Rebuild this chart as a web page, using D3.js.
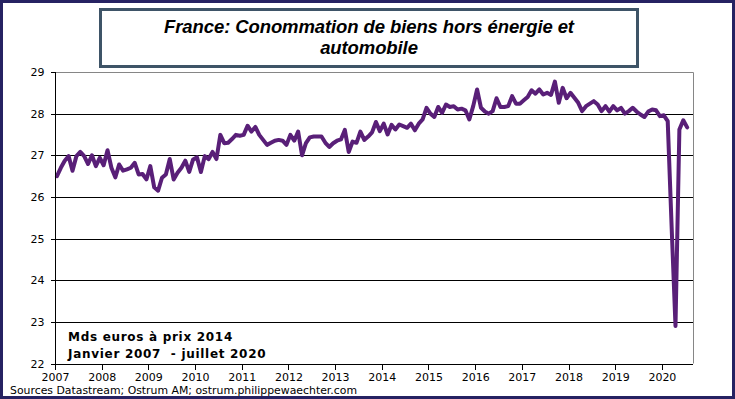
<!DOCTYPE html>
<html>
<head>
<meta charset="utf-8">
<script src="https://cdn.jsdelivr.net/npm/d3@7"></script>
<style>
  html, body { margin: 0; padding: 0; background: #fff; }
  svg { display: block; }
  .axis path, .axis line { stroke: #000; shape-rendering: crispEdges; }
  .axis text { font-family: "DejaVu Sans", Verdana, sans-serif; font-size: 11px; fill: #000; }
</style>
</head>
<body>
<svg id="chart" width="735" height="399"></svg>
<script>
// monthly series, Jan 2007 .. Jul 2020 (Mds euros, prix 2014)
var startYear = 2007;
var yearLabels = ["2007", "2008", "2009", "2010", "2011", "2012", "2013",
                  "2014", "2015", "2016", "2017", "2018", "2019", "2020"];
var yTicks = [22, 23, 24, 25, 26, 27, 28, 29];
var values = [
  26.50, 26.70, 26.87, 26.98, 26.63, 26.98, 27.08, 26.98, 26.79, 27.00, 26.74, 26.94, // 2007
  26.76, 27.12, 26.70, 26.47, 26.78, 26.63, 26.66, 26.70, 26.82, 26.54, 26.55, 26.42, // 2008
  26.74, 26.23, 26.15, 26.46, 26.54, 26.91, 26.42, 26.58, 26.70, 26.87, 26.60, 26.90, // 2009
  26.95, 26.60, 26.98, 26.91, 27.08, 26.91, 27.49, 27.29, 27.30, 27.39, 27.49, 27.47, // 2010
  27.49, 27.71, 27.57, 27.68, 27.49, 27.37, 27.25, 27.30, 27.35, 27.37, 27.35, 27.25, // 2011
  27.49, 27.35, 27.57, 27.00, 27.29, 27.43, 27.45, 27.45, 27.45, 27.30, 27.20, 27.29, // 2012
  27.35, 27.38, 27.61, 27.08, 27.33, 27.30, 27.57, 27.37, 27.45, 27.55, 27.80, 27.58, // 2013
  27.76, 27.50, 27.73, 27.62, 27.74, 27.70, 27.66, 27.76, 27.60, 27.76, 27.86, 28.14, // 2014
  28.00, 27.92, 28.16, 28.02, 28.22, 28.16, 28.18, 28.10, 28.12, 28.08, 27.86, 28.18, // 2015
  28.58, 28.14, 28.05, 28.00, 28.06, 28.37, 28.16, 28.16, 28.18, 28.42, 28.24, 28.24, // 2016
  28.32, 28.40, 28.56, 28.48, 28.58, 28.46, 28.50, 28.45, 28.77, 28.26, 28.62, 28.37, // 2017
  28.50, 28.38, 28.26, 28.06, 28.18, 28.24, 28.30, 28.22, 28.06, 28.18, 28.05, 28.18, // 2018
  28.08, 28.14, 28.00, 28.06, 28.14, 28.05, 27.98, 27.92, 28.05, 28.10, 28.08, 27.94, // 2019
  27.96, 27.82, 25.30, 22.90, 27.62, 27.84, 27.67                                      // 2020
];
var noteLines = ["Mds euros à prix 2014", "Janvier 2007  - juillet 2020"];
var titleLines = ["France: Conommation de biens hors énergie et", "automobile"];
var sourceText = "Sources Datastream; Ostrum AM; ostrum.philippewaechter.com";

var svg = d3.select("#chart");
var W = +svg.attr("width"), H = +svg.attr("height");

// outer frame
svg.append("rect")
  .attr("x", 1.5).attr("y", 1.5)
  .attr("width", W - 3).attr("height", H - 3)
  .attr("fill", "#fff")
  .attr("stroke", "#262262")
  .attr("stroke-width", 3);

var plot = {left: 55, right: 693, top: 72, bottom: 363.5};

// category axis: 164 month slots, points sit mid-slot
var x = d3.scaleLinear().domain([0, 164]).range([plot.left, plot.right]);
var y = d3.scaleLinear().domain([22, 29]).range([plot.bottom, plot.top]);

var g = svg.append("g");

// gridlines
g.selectAll(".grid")
  .data(yTicks.filter(function(d) { return d > 22 && d < 29; }))
  .enter().append("line")
    .attr("class", "grid")
    .attr("x1", plot.left).attr("x2", plot.right)
    .attr("y1", function(d) { return Math.round(y(d)) + 0.5; })
    .attr("y2", function(d) { return Math.round(y(d)) + 0.5; })
    .attr("stroke", "#000")
    .attr("stroke-width", 1);

// plot area border (top and right in grey)
g.append("path")
  .attr("d", "M" + plot.left + "," + (Math.round(y(29)) + 0.5) +
             "H" + (plot.right + 0.5) + "V" + plot.bottom)
  .attr("fill", "none")
  .attr("stroke", "#868686")
  .attr("stroke-width", 1);

// series
var line = d3.line()
  .x(function(d, i) { return x(i + 0.5); })
  .y(function(d) { return y(d); });

g.append("path")
  .datum(values)
  .attr("d", line)
  .attr("fill", "none")
  .attr("stroke", "#591F78")
  .attr("stroke-width", 4)
  .attr("stroke-linejoin", "round")
  .attr("stroke-linecap", "round");

// axes
var yAxis = d3.axisLeft(y).tickValues(yTicks).tickSize(5).tickPadding(6).tickFormat(d3.format("d"));
svg.append("g")
  .attr("class", "axis")
  .attr("transform", "translate(" + (plot.left + 0.5) + ",0)")
  .call(yAxis)
  .call(function(s) { s.select(".domain").attr("d", "M0," + y(29) + "V" + y(22)); });

var xAxis = d3.axisBottom(x)
  .tickValues(yearLabels.map(function(d, i) { return i * 12; }))
  .tickSize(5).tickPadding(4)
  .tickFormat(function(d) { return yearLabels[d / 12]; });
svg.append("g")
  .attr("class", "axis")
  .attr("transform", "translate(0," + (Math.round(plot.bottom) + 0.5) + ")")
  .call(xAxis)
  .call(function(s) { s.select(".domain").attr("d", "M" + plot.left + ",0H" + plot.right); });

// note inside plot
svg.selectAll(".note")
  .data(noteLines)
  .enter().append("text")
    .attr("class", "note")
    .attr("x", 68)
    .attr("y", function(d, i) { return 341 + i * 17; })
    .attr("font-family", "'DejaVu Sans', Verdana, sans-serif")
    .attr("font-weight", "bold")
    .attr("font-size", 12)
    .attr("letter-spacing", 0.7)
    .attr("fill", "#000")
    .style("white-space", "pre")
    .text(function(d) { return d; });

// title box
svg.append("rect")
  .attr("x", 100.5).attr("y", 9.5)
  .attr("width", 537).attr("height", 57)
  .attr("fill", "#fff")
  .attr("stroke", "#3E5467")
  .attr("stroke-width", 3);

svg.selectAll(".title")
  .data(titleLines)
  .enter().append("text")
    .attr("class", "title")
    .attr("x", 369)
    .attr("y", function(d, i) { return 33 + i * 21; })
    .attr("text-anchor", "middle")
    .attr("font-family", "'Liberation Sans', Arial, sans-serif")
    .attr("font-weight", "bold")
    .attr("font-style", "italic")
    .attr("font-size", 18.5)
    .attr("letter-spacing", -0.1)
    .attr("fill", "#000")
    .text(function(d) { return d; });

// source
svg.append("text")
  .attr("x", 10)
  .attr("y", 394)
  .attr("font-family", "'DejaVu Sans', Tahoma, sans-serif")
  .attr("font-size", 10.5)
  .attr("textLength", 347)
  .attr("lengthAdjust", "spacingAndGlyphs")
  .attr("fill", "#000")
  .text(sourceText);
</script>
</body>
</html>
